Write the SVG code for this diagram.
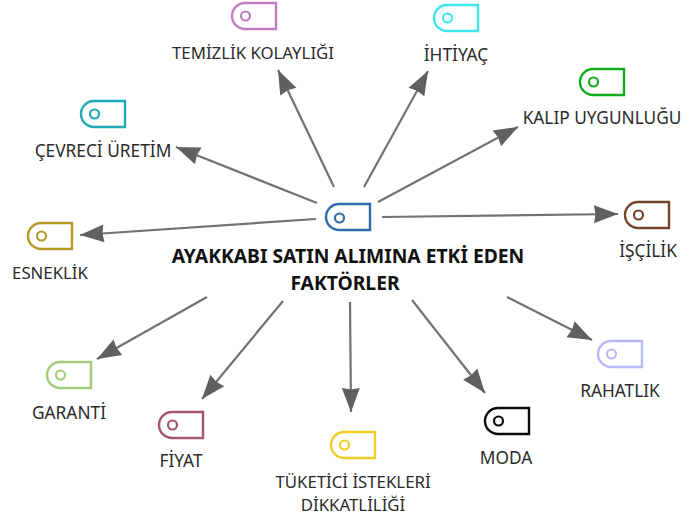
<svg xmlns="http://www.w3.org/2000/svg" width="684" height="522" viewBox="0 0 684 522">
<style>
.tag{fill:#fff;stroke-width:2.4}
.dot{fill:none;stroke-width:2.2}
text{font-family:"Noto Sans","Open Sans","Liberation Sans",sans-serif;font-size:17.300px;fill:#2b2b2b;text-anchor:middle}
.main{font-weight:700;font-size:19.300px;fill:#111}
.c line{stroke:#727272;stroke-width:2.2;marker-end:url(#a)}
</style>
<defs>
<marker id="a" markerUnits="userSpaceOnUse" markerWidth="26" markerHeight="20" refX="24" refY="9" orient="auto" overflow="visible"><path d="M0 0L24 9L0 18L1.500 9Z" fill="#606060"/></marker>
<path id="t" d="M13 0H44V26H13A13 13 0 0 1 13 0Z"/>
</defs>
<rect width="684" height="522" fill="#fff"/>
<g class="c" id="connectors">
<line x1="334" y1="187" x2="278" y2="70"/>
<line x1="364" y1="187" x2="428" y2="71"/>
<line x1="378" y1="202" x2="518" y2="127"/>
<line x1="382" y1="217" x2="618" y2="214"/>
<line x1="507" y1="297" x2="592" y2="340"/>
<line x1="412" y1="300" x2="485" y2="393"/>
<line x1="350" y1="302" x2="351" y2="412"/>
<line x1="283" y1="301" x2="202" y2="399"/>
<line x1="207" y1="297" x2="97" y2="359"/>
<line x1="316" y1="219" x2="80" y2="235"/>
<line x1="317" y1="203" x2="176" y2="147"/>
</g>
<g id="n-main" transform="translate(326 204)"><use href="#t" class="tag" stroke="#2e6da8"/><circle cx="13.500" cy="14" r="4.500" class="dot" stroke="#2e6da8"/></g>
<text class="main" x="348" y="263">AYAKKABI SATIN ALIMINA ETKİ EDEN</text>
<text class="main" x="345" y="290">FAKTÖRLER</text>
<g id="n-temizlik"><g transform="translate(232 3)"><use href="#t" class="tag" stroke="#c17cc4"/><circle cx="13.500" cy="13" r="4.500" class="dot" stroke="#c17cc4"/></g><text x="253" y="59" style="font-size:16.800px">TEMİZLİK KOLAYLIĞI</text></g>
<g id="n-ihtiyac"><g transform="translate(434 5)"><use href="#t" class="tag" stroke="#3fe6ee"/><circle cx="13.500" cy="13" r="4.500" class="dot" stroke="#3fe6ee"/></g><text x="456" y="61">İHTİYAÇ</text></g>
<g id="n-kalip"><g transform="translate(580 69)"><use href="#t" class="tag" stroke="#12ad1e"/><circle cx="13.500" cy="13" r="4.500" class="dot" stroke="#12ad1e"/></g><text x="602" y="124">KALIP UYGUNLUĞU</text></g>
<g id="n-iscilik"><g transform="translate(625 202)"><use href="#t" class="tag" stroke="#74432a"/><circle cx="13.500" cy="13" r="4.500" class="dot" stroke="#74432a"/></g><text x="648" y="257">İŞÇİLİK</text></g>
<g id="n-rahatlik"><g transform="translate(598 341)"><use href="#t" class="tag" stroke="#b9b8f8"/><circle cx="13.500" cy="13" r="4.500" class="dot" stroke="#b9b8f8"/></g><text x="620" y="397">RAHATLIK</text></g>
<g id="n-moda"><g transform="translate(485 408)"><use href="#t" class="tag" stroke="#0c0c0c"/><circle cx="13.500" cy="13" r="4.500" class="dot" stroke="#0c0c0c"/></g><text x="506" y="464">MODA</text></g>
<g id="n-tuketici"><g transform="translate(331 432)"><use href="#t" class="tag" stroke="#f0cd28"/><circle cx="13.500" cy="13" r="4.500" class="dot" stroke="#f0cd28"/></g><text x="353" y="488" style="font-size:16.800px">TÜKETİCİ İSTEKLERİ</text><text x="353" y="511" style="font-size:16.800px">DİKKATLİLİĞİ</text></g>
<g id="n-fiyat"><g transform="translate(159 412)"><use href="#t" class="tag" stroke="#a4566f"/><circle cx="13.500" cy="13" r="4.500" class="dot" stroke="#a4566f"/></g><text x="181" y="467">FİYAT</text></g>
<g id="n-garanti"><g transform="translate(47 362)"><use href="#t" class="tag" stroke="#a3cb78"/><circle cx="13.500" cy="13" r="4.500" class="dot" stroke="#a3cb78"/></g><text x="69" y="419">GARANTİ</text></g>
<g id="n-esneklik"><g transform="translate(28 223)"><use href="#t" class="tag" stroke="#b59a2b"/><circle cx="13.500" cy="13" r="4.500" class="dot" stroke="#b59a2b"/></g><text x="50" y="279" style="font-size:16.800px">ESNEKLİK</text></g>
<g id="n-cevreci"><g transform="translate(81 101)"><use href="#t" class="tag" stroke="#1fa9b5"/><circle cx="13.500" cy="13" r="4.500" class="dot" stroke="#1fa9b5"/></g><text x="103" y="157">ÇEVRECİ ÜRETİM</text></g>
</svg>
